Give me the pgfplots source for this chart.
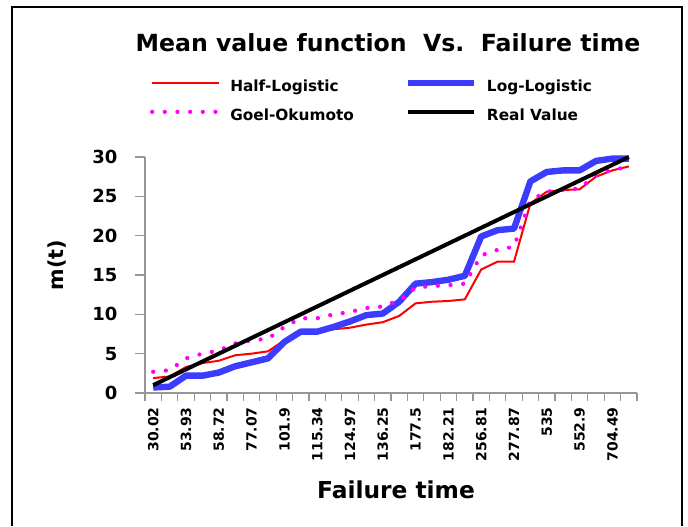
\documentclass[border=0pt]{standalone}
\usepackage{pgfplots}
\pgfplotsset{compat=1.18}
\usepackage{fontspec}
\setmainfont{DejaVu Sans}
\definecolor{hl}{RGB}{255,0,0}
\definecolor{ll}{RGB}{60,60,255}
\definecolor{go}{RGB}{255,0,255}
\definecolor{axgray}{RGB}{150,150,150}
\pgfplotstableread{
i HL LL GO RV
1 1.9 0.7 2.7 1
2 2.1 0.8 2.9 2
3 3.3 2.2 4.4 3
4 3.8 2.2 5.0 4
5 4.1 2.6 5.4 5
6 4.8 3.4 6.3 6
7 5.0 3.9 6.7 7
8 5.3 4.4 6.9 8
9 6.7 6.5 8.4 9
10 7.8 7.8 9.5 10
11 7.8 7.8 9.5 11
12 8.1 8.4 10.0 12
13 8.3 9.1 10.3 13
14 8.7 9.9 10.8 14
15 9.0 10.1 11.0 15
16 9.8 11.6 11.8 16
17 11.4 13.9 13.4 17
18 11.6 14.1 13.6 18
19 11.7 14.4 13.7 19
20 11.9 14.9 13.9 20
21 15.7 19.9 17.5 21
22 16.7 20.7 18.2 22
23 16.7 20.9 18.6 23
24 24.1 26.9 24.5 24
25 25.6 28.1 25.6 25
26 25.8 28.3 25.8 26
27 25.9 28.3 26.0 27
28 27.5 29.5 27.7 28
29 28.3 29.8 28.4 29
30 28.8 29.8 28.7 30
}\data
\begin{document}
\begin{tikzpicture}[x=1pt,y=1pt]
\useasboundingbox (0,0) rectangle (516,394.5);
\draw[line width=0.8pt] (9,0) -- (9,389.25) -- (511.5,389.25) -- (511.5,0);
\begin{axis}[
  at={(108.75pt,99.75pt)}, anchor=south west,
  scale only axis, width=369pt, height=177pt,
  xmin=0.5, xmax=30.5, ymin=0, ymax=30,
  axis x line=bottom, axis y line=left,
  axis line style={draw=axgray, line width=0.8pt, -},
  xtick={1,3,...,29},
  xticklabels={30.02,53.93,58.72,77.07,101.9,115.34,124.97,136.25,177.5,182.21,256.81,277.87,535,552.9,704.49},
  major x tick style={draw=none},
  minor xtick={0.5,1.5,...,30.5},
  minor x tick style={draw=axgray, line width=0.8pt},
  minor tick length=6pt,
  ytick={0,5,...,30},
  major y tick style={draw=axgray, line width=0.8pt},
  major tick length=7.5pt,
  tick align=outside,
  x tick label style={rotate=90, anchor=east, font=\bfseries\fontsize{10.5}{11}\selectfont, inner sep=3pt},
  y tick label style={font=\bfseries\fontsize{13.5}{14}\selectfont, inner sep=0pt, xshift=-13pt},
  /pgf/number format/assume math mode=true,
  clip=false,
  legend columns=2,
  legend cell align=left,
  legend style={draw=none, fill=none, at={(0,1)}, anchor=north west, xshift=3.75pt, yshift=58pt,
    inner sep=0pt, outer sep=0pt,
    font=\bfseries\fontsize{11.5}{13}\selectfont,
    nodes={inner sep=0pt, text height=8.5pt, text depth=2.5pt},
    /tikz/every odd column/.append style={column sep=7pt},
    /tikz/every even column/.append style={column sep=38pt}, row sep=10.75pt},
  legend image code/.code={\draw[#1] (0pt,3.5pt) -- (50pt,3.5pt);},
]
\addplot[hl, line width=1.5pt] table[x=i,y=HL]{\data};
\addlegendentry{Half-Logistic}
\addplot[ll, line width=4.8pt, line join=round] table[x=i,y=LL]{\data};
\addlegendentry{Log-Logistic}
\addplot[go, line width=3.2pt, line cap=round, dash pattern=on 0pt off 9.5pt] table[x=i,y=GO]{\data};
\addlegendentry{Goel-Okumoto}
\addplot[black, line width=3pt] table[x=i,y=RV]{\data};
\addlegendentry{Real Value}
\end{axis}
\node[font=\bfseries\fontsize{17.7}{20}\selectfont] at (291,362.25) {Mean value function\ \ Vs.\ \ Failure time};
\node[font=\bfseries\fontsize{15.5}{18}\selectfont, rotate=90] at (43,195.75) {m(t)};
\node[font=\bfseries\fontsize{17.5}{20}\selectfont] at (297,27) {Failure time};
\end{tikzpicture}
\end{document}
